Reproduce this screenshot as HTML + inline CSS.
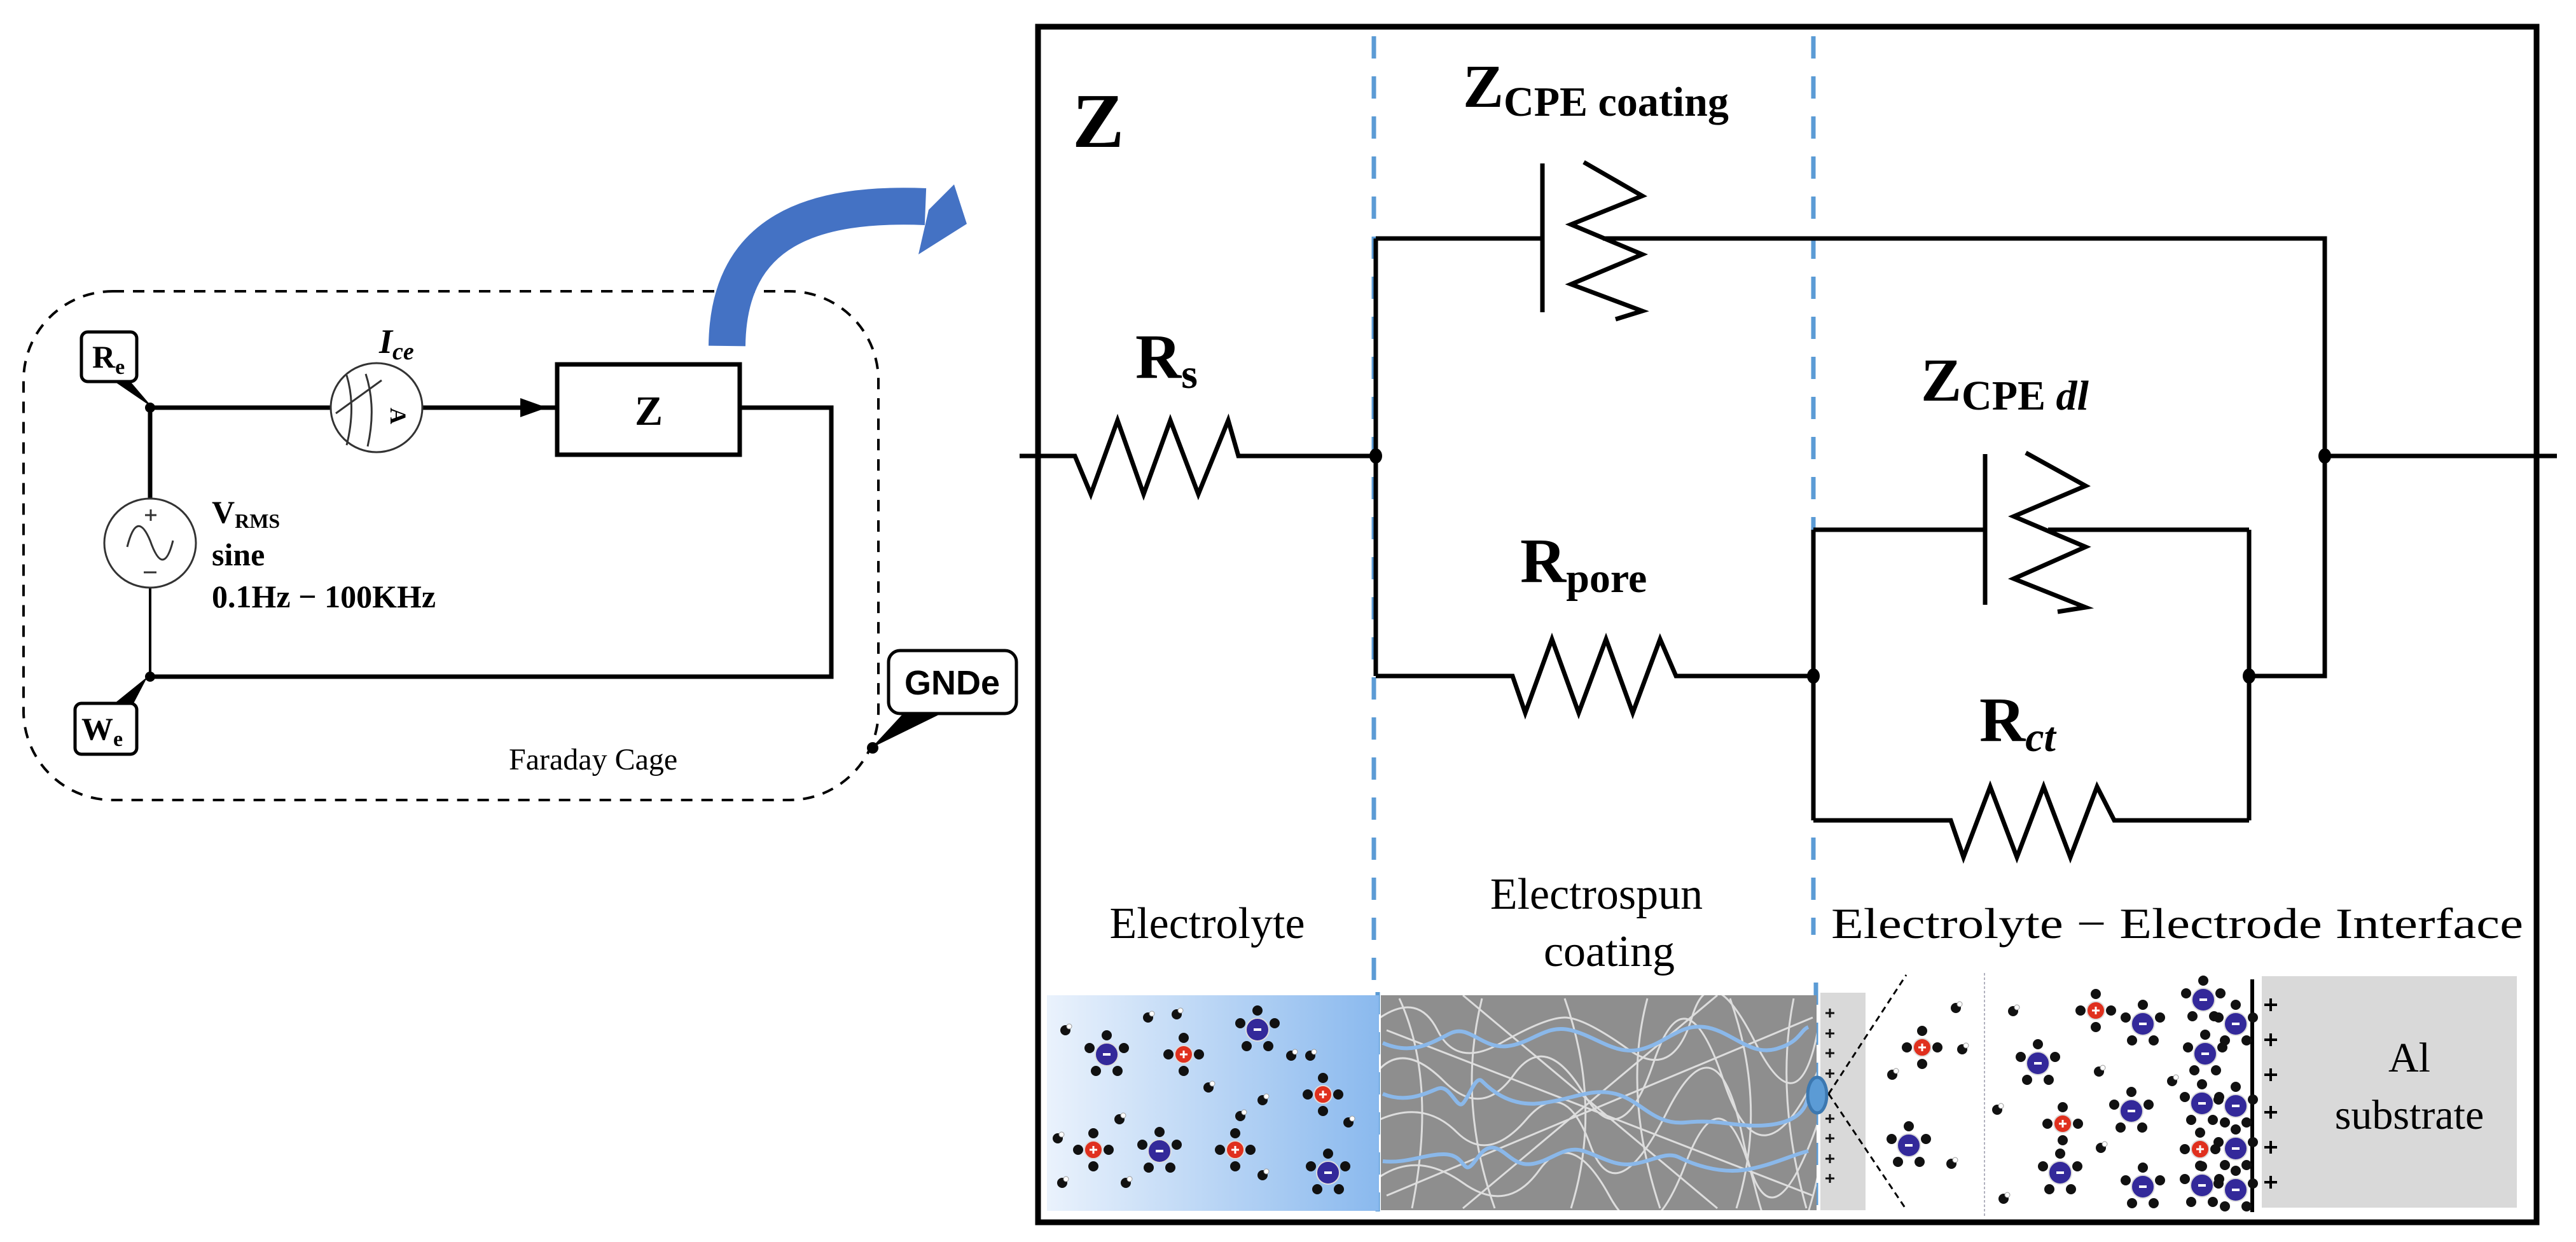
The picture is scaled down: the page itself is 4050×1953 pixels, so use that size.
<!DOCTYPE html>
<html><head><meta charset="utf-8"><style>
html,body{margin:0;padding:0;background:#fff;}
svg{display:block;}
.b{font-family:"Liberation Serif",serif;font-weight:bold;fill:#000;}
.r{font-family:"Liberation Serif",serif;fill:#000;}
</style></head><body>
<svg width="4050" height="1953" viewBox="0 0 4050 1953" xmlns="http://www.w3.org/2000/svg">
<defs>
<linearGradient id="eg" x1="0" x2="1" y1="0" y2="0"><stop offset="0" stop-color="#eaf2fc"/><stop offset="1" stop-color="#8ab9ee"/></linearGradient>
<g id="bi"><circle cx="0" cy="-30" r="8" fill="#111"/><circle cx="-27" cy="-10" r="8" fill="#111"/><circle cx="27" cy="-10" r="8" fill="#111"/><circle cx="-17" cy="26" r="8" fill="#111"/><circle cx="17" cy="26" r="8" fill="#111"/><circle r="18" fill="#33299a" stroke="#ddd" stroke-width="2"/><rect x="-6" y="-2" width="12" height="4" fill="#fff"/></g>
<g id="ri"><circle cx="0" cy="-26" r="8" fill="#111"/><circle cx="-24" cy="0" r="8" fill="#111"/><circle cx="24" cy="0" r="8" fill="#111"/><circle cx="0" cy="26" r="8" fill="#111"/><circle r="14" fill="#e0301e" stroke="#ddd" stroke-width="2"/><path d="M-6 0H6M0 -6V6" stroke="#fff" stroke-width="3"/></g>
<g id="w"><circle r="8" fill="#111"/><circle cx="6" cy="-6" r="4" fill="#fff" stroke="#999" stroke-width="1"/></g>
<clipPath id="fc"><rect x="2171" y="1565" width="685" height="338"/></clipPath>
</defs>

<!-- LEFT PANEL -->
<rect x="37" y="458" width="1344" height="800" rx="140" ry="140" fill="none" stroke="#000" stroke-width="4" stroke-dasharray="18,14"/>
<!-- blue arrow -->
<path d="M1143 544 C1145 360 1280 318 1455 325" fill="none" stroke="#4472c4" stroke-width="58"/>
<polygon points="1500,290 1520,352 1444,400 1460,330" fill="#4472c4"/>
<!-- wires -->
<g stroke="#000" stroke-width="7" fill="none">
<path d="M236 641H520"/><path d="M664 641H876"/>
<rect x="876" y="573" width="287" height="142"/>
<path d="M1163 641H1307V1064H236"/>
<path d="M236 641V784"/>
<path d="M236 924V1064" stroke-width="4"/>
</g>
<text x="1020" y="668" class="b" font-size="66" text-anchor="middle">Z</text>
<polygon points="818,626 860,641 818,656" fill="#000"/>
<ellipse cx="592" cy="641" rx="72" ry="70" fill="none" stroke="#333" stroke-width="3"/>
<path d="M545 590 Q560 640 545 700 M575 588 Q592 640 578 702 M528 650 L600 598" stroke="#333" stroke-width="3" fill="none"/>
<text x="628" y="655" class="b" font-size="36" fill="#333" transform="rotate(90 628 641)">A</text>
<ellipse cx="236" cy="854" rx="72" ry="70" fill="none" stroke="#333" stroke-width="3"/>
<path d="M200 860 Q215 800 236 850 Q257 910 272 850" stroke="#333" stroke-width="3" fill="none"/>
<path d="M228 810H246M237 801V819M226 900H246" stroke="#333" stroke-width="3"/>
<circle cx="236" cy="641" r="8" fill="#000"/><circle cx="236" cy="1064" r="8" fill="#000"/>
<!-- Re / We tags -->
<polygon points="180,600 205,600 240,641" fill="#000"/>
<rect x="128" y="522" width="87" height="78" rx="10" fill="#fff" stroke="#000" stroke-width="5"/>
<text x="145" y="578" class="b" font-size="50">R<tspan font-size="34" dy="10">e</tspan></text>
<polygon points="232,1064 180,1106 210,1106" fill="#000"/>
<rect x="118" y="1106" width="97" height="80" rx="10" fill="#fff" stroke="#000" stroke-width="5"/>
<text x="128" y="1163" class="b" font-size="50">W<tspan font-size="34" dy="10">e</tspan></text>
<!-- source labels -->
<text x="333" y="822" class="b" font-size="50">V<tspan font-size="32" dy="8">RMS</tspan></text>
<text x="333" y="889" class="b" font-size="50">sine</text>
<text x="333" y="955" class="b" font-size="50">0.1Hz − 100KHz</text>
<text x="596" y="555" class="b" font-size="54" font-style="italic">I<tspan font-size="38" dy="10">ce</tspan></text>
<text x="800" y="1210" class="r" font-size="48">Faraday Cage</text>
<!-- GNDe -->
<polygon points="1370,1176 1420,1122 1480,1122" fill="#000"/>
<circle cx="1372" cy="1176" r="9" fill="#000"/>
<rect x="1397" y="1023" width="201" height="99" rx="18" fill="#fff" stroke="#000" stroke-width="5"/>
<text x="1497" y="1092" text-anchor="middle" font-family="Liberation Sans,sans-serif" font-weight="bold" font-size="54">GNDe</text>

<!-- RIGHT PANEL BOX -->
<rect x="1632" y="42" width="2356" height="1880" fill="none" stroke="#000" stroke-width="9"/>
<g stroke="#5b9bd5" stroke-width="7" stroke-dasharray="35,28">
<path d="M2160 57V1545"/><path d="M2166 1560V1905"/>
<path d="M2851 57V1470"/><path d="M2855 1545V1905"/>
</g>
<text x="1686" y="231" class="b" font-size="122">Z</text>
<text x="2300" y="168" class="b" font-size="96">Z<tspan font-size="66" dy="14">CPE coating</tspan></text>
<text x="1785" y="594" class="b" font-size="100">R<tspan font-size="66" dy="16">s</tspan></text>
<text x="2390" y="915" class="b" font-size="100">R<tspan font-size="66" dy="16">pore</tspan></text>
<text x="3020" y="630" class="b" font-size="96">Z<tspan font-size="66" dy="14">CPE </tspan><tspan font-size="66" font-style="italic">dl</tspan></text>
<text x="3112" y="1165" class="b" font-size="100">R<tspan font-size="66" dy="16" font-style="italic">ct</tspan></text>

<g stroke="#000" stroke-width="7" fill="none" stroke-linejoin="miter">
<path d="M1603 717H1690L1715 777L1757 661L1798 777L1840 661L1884 777L1931 661L1947 717H2163"/>
<path d="M3655 717H4020"/>
<path d="M2163 375V1063"/>
<path d="M2163 375H2425"/>
<path d="M2425 257V491"/>
<path d="M2490 255L2582 308L2470 353L2582 400L2470 447L2582 489L2540 502"/>
<path d="M2520 375H3655V717"/>
<path d="M3655 717V1063H3536"/>
<path d="M2163 1063H2378L2398 1121L2440 1005L2482 1121L2525 1005L2567 1121L2610 1005L2635 1063H2851"/>
<path d="M2851 833V1290"/>
<path d="M3536 833V1290"/>
<path d="M2851 833H3121"/>
<path d="M3121 714V951"/>
<path d="M3185 712L3279 764L3166 812L3279 860L3166 910L3279 955L3235 962"/>
<path d="M3220 833H3536"/>
<path d="M2851 1290H3067L3087 1348L3129 1237L3171 1348L3213 1237L3255 1348L3297 1237L3324 1290H3536"/>
</g>
<g fill="#000">
<ellipse cx="2163" cy="717" rx="10" ry="12"/><ellipse cx="3655" cy="717" rx="10" ry="12"/>
<ellipse cx="2851" cy="1063" rx="10" ry="12"/><ellipse cx="3536" cy="1063" rx="10" ry="12"/>
</g>

<text x="1898" y="1475" class="r" font-size="70" text-anchor="middle">Electrolyte</text>
<text x="2510" y="1429" class="r" font-size="70" text-anchor="middle">Electrospun</text>
<text x="2530" y="1519" class="r" font-size="70" text-anchor="middle">coating</text>
<text x="3423" y="1475" class="r" font-size="68" text-anchor="middle" textLength="1088" lengthAdjust="spacingAndGlyphs">Electrolyte − Electrode Interface</text>

<rect x="1646" y="1565" width="522" height="339" fill="url(#eg)"/>
<rect x="2171" y="1565" width="685" height="338" fill="#8e8e8e"/>
<g clip-path="url(#fc)" fill="none" stroke="#fff" stroke-width="3" opacity="0.7">
<path d="M2170 1600 Q2230 1560 2260 1620 T2360 1640 T2460 1600 T2560 1650 T2660 1600 T2760 1640 T2860 1610"/>
<path d="M2170 1680 Q2210 1640 2270 1700 T2380 1690 T2490 1720 T2600 1670 T2710 1700 T2860 1680"/>
<path d="M2170 1760 Q2240 1730 2290 1780 T2400 1760 T2500 1800 T2620 1750 T2740 1790 T2860 1760"/>
<path d="M2170 1850 Q2230 1810 2300 1860 T2420 1840 T2530 1880 T2650 1830 T2760 1870 T2860 1840"/>
<path d="M2200 1570 Q2260 1700 2220 1900 M2330 1570 Q2290 1730 2350 1900 M2460 1570 Q2520 1740 2470 1900 M2590 1570 Q2550 1720 2610 1900 M2720 1570 Q2780 1740 2730 1900 M2820 1570 Q2790 1720 2840 1900"/>
<path d="M2180 1620 L2850 1880 M2180 1880 L2850 1600 M2300 1565 L2700 1900 M2700 1565 L2300 1900"/>
</g>
<g fill="none" stroke="#8ab8ea" stroke-width="6">
<path d="M2174 1640 C2220 1660 2250 1640 2280 1625 S2330 1650 2370 1645 S2430 1610 2470 1620 S2540 1660 2580 1650 S2640 1610 2680 1615 S2750 1660 2790 1650 S2830 1620 2843 1615"/>
<path d="M2174 1720 C2210 1735 2240 1720 2260 1712 S2290 1745 2300 1735 S2320 1690 2330 1700 S2370 1740 2420 1735 S2500 1710 2540 1720 S2600 1770 2650 1765 S2720 1770 2760 1770 S2840 1760 2843 1720"/>
<path d="M2174 1826 C2210 1830 2240 1815 2270 1815 S2300 1840 2310 1835 S2330 1800 2350 1805 S2380 1835 2410 1830 S2460 1800 2490 1810 S2540 1835 2570 1830 S2620 1810 2640 1820 S2700 1845 2740 1840 S2820 1815 2843 1810"/>
</g>
<rect x="2862" y="1561" width="71" height="342" fill="#d9d9d9"/>
<g stroke="#111" stroke-width="3">
<path d="M2870 1593h14M2877 1586v14M2870 1625h14M2877 1618v14M2870 1656h14M2877 1649v14M2870 1688h14M2877 1681v14M2870 1759h14M2877 1752v14M2870 1790h14M2877 1783v14M2870 1822h14M2877 1815v14M2870 1853h14M2877 1846v14"/>
</g>
<ellipse cx="2857" cy="1722" rx="15" ry="28" fill="#5b9bd5" stroke="#3c78b0" stroke-width="5"/>
<path d="M2875 1720L2997 1533M2875 1720L2997 1902" stroke="#000" stroke-width="3" stroke-dasharray="10,7"/>
<path d="M3120 1530V1915" stroke="#99a" stroke-width="1.5" stroke-dasharray="4,3"/>
<path d="M3541 1540V1906" stroke="#000" stroke-width="6"/>
<rect x="3556" y="1535" width="401" height="364" fill="#d9d9d9"/>
<g stroke="#000" stroke-width="4">
<path d="M3560 1580h20M3570 1570v20M3560 1635h20M3570 1625v20M3560 1690h20M3570 1680v20M3560 1749h20M3570 1739v20M3560 1804h20M3570 1794v20M3560 1859h20M3570 1849v20"/>
</g>
<text x="3788" y="1685" class="r" font-size="66" text-anchor="middle">Al</text>
<text x="3788" y="1775" class="r" font-size="66" text-anchor="middle">substrate</text>

<use href="#bi" x="1740" y="1658"/><use href="#bi" x="1977" y="1619"/><use href="#bi" x="1823" y="1810"/><use href="#bi" x="2088" y="1844"/>
<use href="#ri" x="1861" y="1658"/><use href="#ri" x="2080" y="1721"/><use href="#ri" x="1719" y="1808"/><use href="#ri" x="1942" y="1808"/>
<use href="#w" x="1675" y="1620"/><use href="#w" x="1805" y="1600"/><use href="#w" x="1850" y="1595"/><use href="#w" x="2030" y="1660"/><use href="#w" x="2060" y="1660"/><use href="#w" x="1900" y="1710"/><use href="#w" x="1950" y="1755"/><use href="#w" x="1985" y="1730"/><use href="#w" x="1760" y="1760"/><use href="#w" x="1663" y="1790"/><use href="#w" x="1670" y="1860"/><use href="#w" x="1770" y="1860"/><use href="#w" x="1985" y="1848"/><use href="#w" x="2120" y="1765"/>
<use href="#bi" x="3001" y="1801"/><use href="#bi" x="3204" y="1672"/><use href="#bi" x="3369" y="1610"/><use href="#bi" x="3351" y="1747"/><use href="#bi" x="3239" y="1844"/><use href="#bi" x="3369" y="1866"/><use href="#bi" x="3464" y="1572"/><use href="#bi" x="3515" y="1610"/><use href="#bi" x="3467" y="1657"/><use href="#bi" x="3462" y="1735"/><use href="#bi" x="3515" y="1739"/><use href="#bi" x="3515" y="1806"/><use href="#bi" x="3462" y="1864"/><use href="#bi" x="3515" y="1871"/>
<use href="#ri" x="3022" y="1647"/><use href="#ri" x="3295" y="1589"/><use href="#ri" x="3243" y="1767"/><use href="#ri" x="3459" y="1807"/>
<use href="#w" x="3075" y="1585"/><use href="#w" x="3085" y="1650"/><use href="#w" x="2975" y="1690"/><use href="#w" x="3068" y="1830"/><use href="#w" x="3165" y="1590"/><use href="#w" x="3300" y="1685"/><use href="#w" x="3415" y="1700"/><use href="#w" x="3140" y="1745"/><use href="#w" x="3303" y="1805"/><use href="#w" x="3150" y="1885"/>
</svg>
</body></html>
